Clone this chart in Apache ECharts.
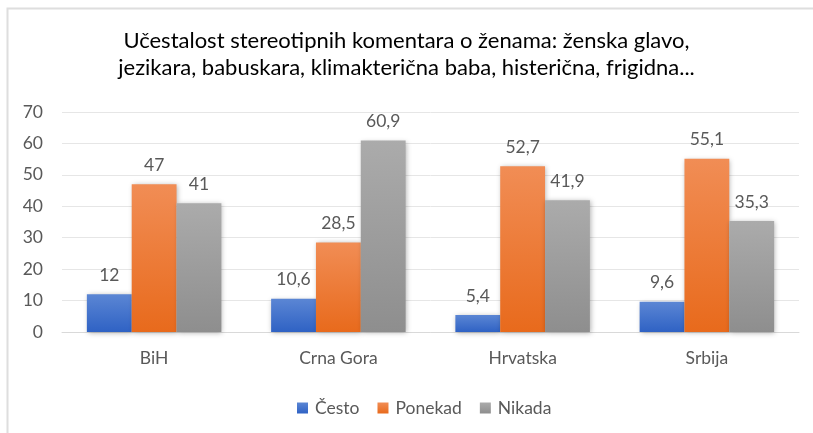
<!DOCTYPE html>
<html>
<head>
<meta charset="utf-8">
<script src="https://cdn.jsdelivr.net/npm/echarts@6/dist/echarts.min.js"></script>
<style>
  html, body { margin: 0; padding: 0; background: #fff; }
  #viz { width: 813px; height: 433px; }
</style>
</head>
<body>
<div id="viz"></div>
<script>
// data
var countries = ['BiH', 'Crna Gora', 'Hrvatska', 'Srbija'];
var cesto = [12, 10.6, 5.4, 9.6];
var ponekad = [47, 28.5, 52.7, 55.1];
var nikada = [41, 60.9, 41.9, 35.3];
var seriesNames = ['Često', 'Ponekad', 'Nikada'];
var yTicks = [0, 10, 20, 30, 40, 50, 60, 70];

var FONT = 'Lato';
var LABEL_COLOR = '#595959';

function grad(top, bottom) {
  return new echarts.graphic.LinearGradient(0, 0, 0, 1, [
    { offset: 0, color: top },
    { offset: 1, color: bottom }
  ]);
}

function fmt(p) {
  return String(p.value).replace('.', ',');
}

function makeSeries(name, data, top, bottom) {
  return {
    name: name,
    type: 'bar',
    data: data,
    barGap: '0%',
    barCategoryGap: '27%',
    itemStyle: {
      color: grad(top, bottom),
      shadowBlur: 5,
      shadowColor: 'rgba(0,0,0,0.3)',
      shadowOffsetX: 1,
      shadowOffsetY: 1
    },
    label: {
      show: true,
      position: 'top',
      distance: 10,
      formatter: fmt,
      color: LABEL_COLOR,
      fontSize: 17.5,
      fontFamily: FONT
    }
  };
}

var myChart = echarts.init(document.getElementById('viz'));
var option = {
  animation: false,
  backgroundColor: '#fff',
  textStyle: { fontFamily: FONT },
  title: {
    text: 'Učestalost stereotipnih komentara o ženama: ženska glavo,\njezikara, babuskara, klimakterična baba, histerična, frigidna...',
    left: 'center',
    top: 22,
    textStyle: {
      fontFamily: FONT,
      fontWeight: 'normal',
      fontSize: 22,
      lineHeight: 27,
      color: '#000'
    }
  },
  graphic: [{
    type: 'rect',
    shape: { x: 7.5, y: 8.5, width: 900, height: 600 },
    style: { fill: 'none', stroke: '#dedede', lineWidth: 2 },
    silent: true
  }],
  legend: {
    data: seriesNames,
    top: 394,
    left: 292,
    itemWidth: 11,
    itemHeight: 11,
    itemGap: 18,
    icon: 'rect',
    textStyle: { color: LABEL_COLOR, fontSize: 17.5, fontFamily: FONT, padding: [0, 0, 0, 2] }
  },
  grid: {
    left: 62,
    right: 14,
    top: 112,
    bottom: 101
  },
  xAxis: {
    type: 'category',
    data: countries,
    axisTick: { show: false },
    axisLine: { lineStyle: { color: '#d9d9d9', width: 1 } },
    axisLabel: { color: LABEL_COLOR, fontSize: 17.5, fontFamily: FONT, margin: 17 }
  },
  yAxis: {
    type: 'value',
    min: yTicks[0],
    max: yTicks[yTicks.length - 1],
    interval: 10,
    axisLine: { show: false },
    axisTick: { show: false },
    axisLabel: { color: LABEL_COLOR, fontSize: 17.5, fontFamily: FONT, margin: 19 },
    splitLine: { lineStyle: { color: '#e6e6e6', width: 1 } }
  },
  series: [
    makeSeries(seriesNames[0], cesto, '#5b86d4', '#2f62c4'),
    makeSeries(seriesNames[1], ponekad, '#f18d55', '#e86a1c'),
    makeSeries(seriesNames[2], nikada, '#ababab', '#8e8e8e')
  ]
};
myChart.setOption(option);
</script>
</body>
</html>
